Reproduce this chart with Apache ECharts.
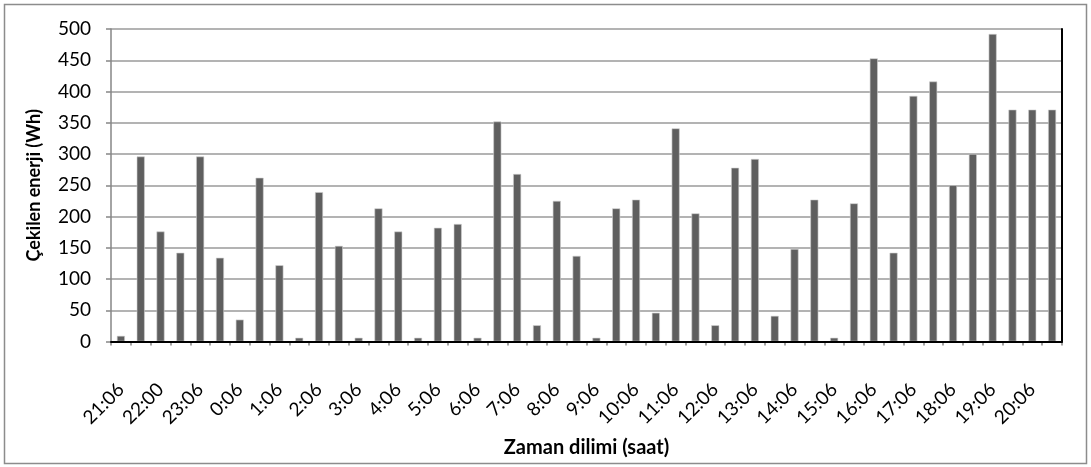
<!DOCTYPE html>
<html>
<head>
<meta charset="utf-8">
<script src="https://cdn.jsdelivr.net/npm/echarts@6/dist/echarts.min.js"></script>
<style>
  html, body { margin: 0; padding: 0; background: #fff; }
  #chart { width: 1091px; height: 467px; }
</style>
</head>
<body>
<div id="chart"></div>
<script>
// Hourly time slots shown on the axis (one labelled slot every two bars)
const timeLabels = ['21:06', '22:00', '23:06', '0:06', '1:06', '2:06', '3:06', '4:06',
  '5:06', '6:06', '7:06', '8:06', '9:06', '10:06', '11:06', '12:06', '13:06', '14:06',
  '15:06', '16:06', '17:06', '18:06', '19:06', '20:06'];

// Energy drawn per half-hour slot (Wh)
const energyWh = [9, 296, 176, 142, 296, 134, 35, 262, 122, 6, 239, 153, 6, 213, 176, 6,
  182, 188, 6, 352, 268, 26, 225, 137, 6, 213, 227, 46, 341, 205, 26, 278,
  292, 41, 148, 227, 6, 221, 453, 142, 393, 416, 250, 300, 492, 371, 371, 371];

const yTicks = { min: 0, max: 500, interval: 50 };

// Each labelled hour is followed by an unlabelled half-hour slot
const categories = timeLabels.flatMap(t => [t, '']);

const FONT = 'Lato, "Open Sans", sans-serif';

const chart = echarts.init(document.getElementById('chart'), null, { renderer: 'canvas' });

chart.setOption({
  animation: false,
  backgroundColor: '#ffffff',
  grid: { left: 111, right: 29, top: 29, bottom: 125.5, containLabel: false },
  graphic: [{
    type: 'rect',
    shape: { x: 4.5, y: 4.5, width: 1082, height: 459 },
    style: { fill: 'none', stroke: '#8c8c8c', lineWidth: 1.5 },
    silent: true
  }],
  xAxis: [{
    type: 'category',
    data: categories,
    boundaryGap: true,
    axisLine: { lineStyle: { color: '#868686', width: 1.5 } },
    axisTick: { show: true, interval: 0, length: 4, lineStyle: { color: '#868686', width: 1.5 } },
    axisLabel: {
      interval: 0, rotate: 45, margin: 45,
      fontFamily: FONT, fontSize: 19, color: '#000'
    },
    name: 'Zaman dilimi (saat)',
    nameLocation: 'middle',
    nameGap: 96,
    nameTextStyle: { fontFamily: FONT, fontSize: 20, fontWeight: 'bold', color: '#000' }
  }, {
    // plot frame, top edge
    type: 'category',
    position: 'top',
    data: categories,
    z: 5,
    axisLine: { lineStyle: { color: '#000', width: 2 } },
    axisTick: { show: false },
    axisLabel: { show: false },
    splitLine: { show: false }
  }],
  yAxis: [{
    type: 'value',
    min: yTicks.min, max: yTicks.max, interval: yTicks.interval,
    axisLine: { show: true, lineStyle: { color: '#868686', width: 1.5 } },
    axisTick: { show: true, length: 5, lineStyle: { color: '#868686', width: 1.5 } },
    axisLabel: { margin: 20, fontFamily: FONT, fontSize: 19, color: '#000' },
    splitLine: { show: true, lineStyle: { color: '#9a9a9a', width: 1.5 } },
    name: 'Çekilen enerji (Wh)',
    nameLocation: 'middle',
    nameGap: 68,
    nameRotate: 90,
    nameTextStyle: { fontFamily: FONT, fontSize: 18, fontWeight: 'bold', color: '#000' }
  }, {
    // plot frame, right edge
    type: 'value',
    position: 'right',
    min: yTicks.min, max: yTicks.max, interval: yTicks.interval,
    z: 5,
    axisLine: { show: true, lineStyle: { color: '#000', width: 2 } },
    axisTick: { show: false },
    axisLabel: { show: false },
    splitLine: { show: false }
  }],
  series: [{
    type: 'bar',
    xAxisIndex: 0,
    yAxisIndex: 0,
    data: energyWh,
    barWidth: 8,
    itemStyle: { color: '#5f5f5f', borderColor: '#cfcfcf', borderWidth: 0.6 }
  }]
});
</script>
</body>
</html>
